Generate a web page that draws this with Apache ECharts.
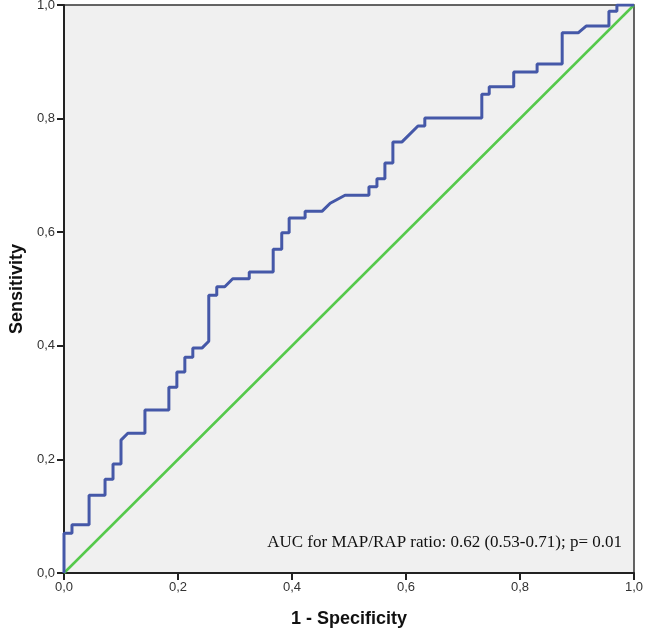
<!DOCTYPE html>
<html>
<head>
<meta charset="utf-8">
<script src="https://cdn.jsdelivr.net/npm/echarts@6/dist/echarts.min.js"></script>
<style>html,body{margin:0;padding:0;background:#fff}#c{width:661px;height:640px}</style>
</head>
<body>
<div id="c"></div>
<script>
var fpr = [0,0,0.014,0.014,0.044,0.044,0.072,0.072,0.086,0.086,0.100,0.100,0.112,0.142,0.142,0.184,0.184,0.198,0.198,0.212,0.212,0.226,0.226,0.242,0.254,0.254,0.268,0.268,0.282,0.296,0.325,0.325,0.367,0.367,0.382,0.382,0.395,0.395,0.423,0.423,0.453,0.467,0.493,0.535,0.535,0.549,0.549,0.563,0.563,0.577,0.577,0.593,0.621,0.633,0.633,0.733,0.733,0.746,0.746,0.789,0.789,0.830,0.830,0.874,0.874,0.902,0.916,0.956,0.956,0.970,0.970,1];
var tpr = [0,0.070,0.070,0.085,0.085,0.137,0.137,0.165,0.165,0.192,0.192,0.234,0.246,0.246,0.287,0.287,0.327,0.327,0.354,0.354,0.380,0.380,0.396,0.396,0.408,0.489,0.489,0.504,0.504,0.518,0.518,0.530,0.530,0.570,0.570,0.599,0.599,0.625,0.625,0.637,0.637,0.651,0.665,0.665,0.680,0.680,0.694,0.694,0.722,0.722,0.759,0.759,0.787,0.787,0.801,0.801,0.843,0.843,0.856,0.856,0.882,0.882,0.896,0.896,0.951,0.951,0.963,0.963,0.989,0.989,1,1];
var refX = [0, 1];
var refY = [0, 1];
var tickLabels = ['0,0','0,2','0,4','0,6','0,8','1,0'];
var xName = '1 - Specificity';
var yName = 'Sensitivity';
var aucText = 'AUC for MAP/RAP ratio: 0.62 (0.53-0.71); p= 0.01';

function pairs(a, b){ var r=[]; for (var i=0;i<a.length;i++) r.push([a[i], b[i]]); return r; }
function fmt(v){ var i=Math.round(v*5); return tickLabels[i] !== undefined ? tickLabels[i] : ''; }

var chart = echarts.init(document.getElementById('c'), null, {renderer:'canvas'});
var axisCommon = {
  type:'value', min:0, max:1, interval:0.2,
  splitLine:{show:false},
  axisLine:{show:true, onZero:false, lineStyle:{color:'#222', width:2}},
  axisTick:{show:true, inside:false, length:7, lineStyle:{color:'#222', width:2}},
  axisLabel:{color:'#333', fontFamily:'Liberation Sans, Arial, sans-serif', fontSize:13, formatter:fmt, hideOverlap:false},
  nameLocation:'middle',
  nameTextStyle:{color:'#111', fontFamily:'Liberation Sans, Arial, sans-serif', fontSize:18, fontWeight:'bold'}
};
chart.setOption({
  animation:false,
  backgroundColor:'#ffffff',
  grid:{left:64, right:27, top:5, bottom:67, containLabel:false, outerBoundsMode:'none', show:true, backgroundColor:'#f0f0f0', borderColor:'#333', borderWidth:1.5},
  xAxis: Object.assign({}, axisCommon, {name:xName, nameGap:37, axisLabel:Object.assign({}, axisCommon.axisLabel, {margin:8})}),
  yAxis: Object.assign({}, axisCommon, {name:yName, nameGap:38, axisLabel:Object.assign({}, axisCommon.axisLabel, {margin:9})}),
  series:[
    {type:'line', data:pairs(refX, refY), symbol:'none', lineStyle:{color:'#55c94b', width:2.5}, z:2},
    {type:'line', data:pairs(fpr, tpr), symbol:'none', lineStyle:{color:'#4558a8', width:3}, z:3}
  ],
  graphic:[
    {type:'text', right:39, top:534, style:{text:aucText, fill:'#111', font:'17px "Liberation Serif", "Times New Roman", serif'}}
  ]
});
</script>
</body>
</html>
